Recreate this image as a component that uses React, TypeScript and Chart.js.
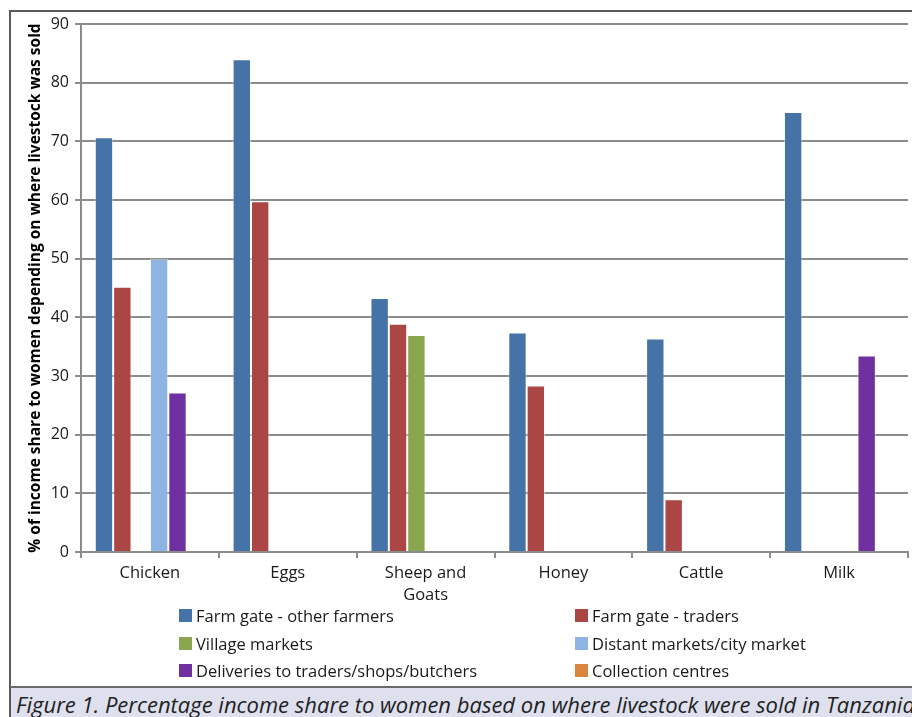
import React, { useEffect, useRef } from "react";
import { Chart, registerables } from "chart.js";

Chart.register(...registerables);

const categories: (string | string[])[] = ["Chicken", "Eggs", ["Sheep and", "Goats"], "Honey", "Cattle", "Milk"];

const farmGateOtherFarmers = [70.7, 84.0, 43.3, 37.4, 36.4, 75.0];
const farmGateTraders = [45.2, 59.8, 38.9, 28.4, 9.0, null];
const villageMarkets = [null, null, 37.0, null, null, null];
const distantMarkets = [50.0, null, null, null, null, null];
const deliveries = [27.2, null, null, null, null, 33.5];
const collectionCentres = [null, null, null, null, null, null];

const seriesNames = [
  "Farm gate - other farmers",
  "Farm gate - traders",
  "Village markets",
  "Distant markets/city market",
  "Deliveries to traders/shops/butchers",
  "Collection centres",
];
const seriesColors = ["#4572A7", "#AA4643", "#89A54E", "#8EB4E3", "#7030A0", "#DB843D"];
const seriesData = [farmGateOtherFarmers, farmGateTraders, villageMarkets, distantMarkets, deliveries, collectionCentres];

const yTitle = "% of income share to women depending on where livestock was sold";
const caption = "Figure 1. Percentage income share to women based on where livestock were sold in Tanzania";

const FONT = "'Open Sans', 'DejaVu Sans', sans-serif";

export default function App() {
  const ref = useRef<HTMLCanvasElement | null>(null);

  useEffect(() => {
    if (!ref.current) return;
    const chart = new Chart(ref.current, {
      type: "bar",
      data: {
        labels: categories,
        datasets: seriesNames.map((name, i) => ({
          label: name,
          data: seriesData[i],
          backgroundColor: seriesColors[i],
          borderColor: "rgba(255,255,255,0.45)",
          borderWidth: 1,
          categoryPercentage: 0.8,
          barPercentage: 1.0,
        })),
      },
      options: {
        responsive: false,
        animation: false,
        devicePixelRatio: 1,
        layout: { padding: { left: 0, right: 4, top: 24, bottom: 0 } },
        plugins: { legend: { display: false }, tooltip: { enabled: false } },
        scales: {
          x: {
            grid: {
              display: true,
              drawOnChartArea: false,
              drawTicks: true,
              tickLength: 6,
              color: "#8c8c8c",
              lineWidth: 2,
              offset: true,
            },
            border: { display: true, color: "#8c8c8c", width: 2 },
            ticks: {
              color: "#1a1a1a",
              font: { family: FONT, size: 16.5, lineHeight: 1.3 },
              padding: 5,
              maxRotation: 0,
              autoSkip: false,
            },
            afterFit: (scale: any) => {
              scale.height = 135;
            },
          },
          y: {
            min: 0,
            max: 90,
            ticks: {
              stepSize: 10,
              color: "#1a1a1a",
              font: { family: FONT, size: 16 },
              padding: 6,
            },
            grid: {
              color: "#8c8c8c",
              lineWidth: 2,
              tickLength: 6,
              drawTicks: true,
            },
            border: { display: true, color: "#8c8c8c", width: 2 },
            title: {
              display: true,
              text: yTitle,
              color: "#000",
              font: { family: FONT, size: 15.5, weight: "bold" },
              padding: { top: 26, bottom: 0 },
            },
            afterFit: (scale: any) => {
              scale.width = 81;
            },
          },
        },
      },
    } as any);
    return () => chart.destroy();
  }, []);

  const legendRows = [
    [0, 1],
    [2, 3],
    [4, 5],
  ];
  const colLeft = [179, 575];
  const rowTop = [605, 633, 660];

  return (
    <div
      style={{
        position: "fixed",
        left: 0,
        top: 0,
        width: 912,
        height: 717,
        overflow: "hidden",
        background: "#fff",
        fontFamily: FONT,
      }}
    >
      <div
        style={{
          position: "absolute",
          left: 9,
          top: 10,
          width: 960,
          height: 720,
          borderLeft: "2px solid #5a5a5a",
          borderTop: "2px solid #5a5a5a",
          boxSizing: "border-box",
        }}
      />
      <canvas
        ref={ref}
        width={912}
        height={687}
        style={{ position: "absolute", left: 0, top: 0, width: 912, height: 687 }}
      />
      {legendRows.map((row, r) =>
        row.map((si, c) => (
          <div
            key={si}
            style={{
              position: "absolute",
              left: colLeft[c],
              top: rowTop[r],
              height: 20,
              display: "flex",
              alignItems: "center",
              fontSize: 16.5,
              color: "#1a1a1a",
              whiteSpace: "nowrap",
            }}
          >
            <span
              style={{
                display: "inline-block",
                width: 13,
                height: 13,
                background: seriesColors[si],
                marginRight: 4,
              }}
            />
            <span>{seriesNames[si]}</span>
          </div>
        ))
      )}
      <div
        style={{
          position: "absolute",
          left: 9,
          top: 686,
          width: 960,
          height: 40,
          background: "#DEE0EE",
          borderTop: "2px solid #6a6a6a",
          borderLeft: "2px solid #5a5a5a",
          boxSizing: "border-box",
        }}
      >
        <div
          style={{
            position: "absolute",
            left: 5,
            top: 1,
            fontStyle: "italic",
            fontSize: 22,
            color: "#222",
            whiteSpace: "nowrap",
          }}
        >
          {caption}
        </div>
      </div>
    </div>
  );
}
